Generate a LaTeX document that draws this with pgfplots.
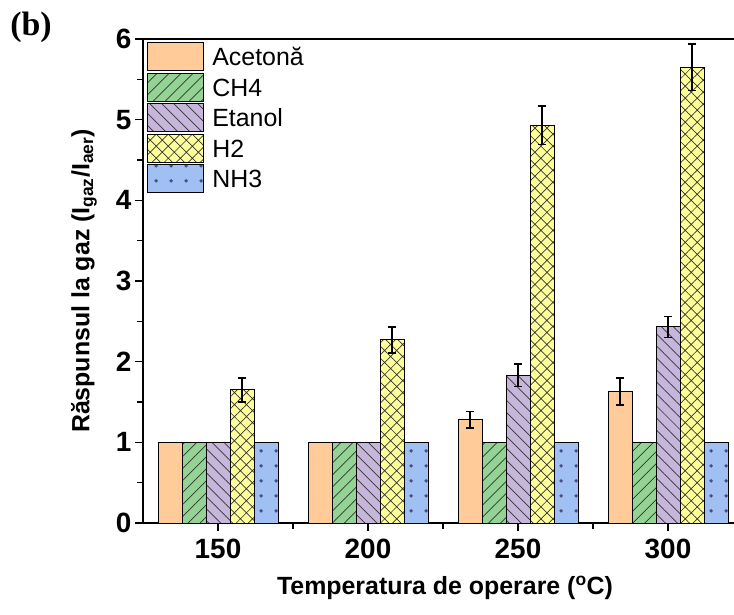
\documentclass[border=0pt]{standalone}
\usepackage{fontspec}
\setmainfont{Liberation Sans}
\newfontfamily\serifb{Liberation Serif}
\usepackage{pgfplots}
\pgfplotsset{compat=1.18}
\usetikzlibrary{patterns.meta}
\definecolor{cAce}{RGB}{255,204,153}
\definecolor{cCH}{RGB}{147,211,147}
\definecolor{cEt}{RGB}{199,182,220}
\definecolor{cH}{RGB}{255,255,153}
\definecolor{cNH}{RGB}{160,191,242}
\definecolor{cDot}{RGB}{70,80,120}
\pgfplotsset{
  mylegend/.style={legend image code/.code={\draw[##1] (0bp,-14bp) rectangle (56bp,14bp);}},
  errplot/.style={draw=none, mark=none, forget plot,
    /pgfplots/error bars/y dir=both, /pgfplots/error bars/y explicit,
    /pgfplots/error bars/error bar style={draw=black, line width=2bp},
    /pgfplots/error bars/error mark options={draw=black, rotate=90, mark size=4bp, line width=1.5bp}},
}
\begin{document}
\begin{tikzpicture}
\begin{axis}[
  at={(143bp,92bp)}, anchor=south west,
  scale only axis, width=591bp, height=484bp,
  xmin=0.5, xmax=4.44, ymin=0, ymax=6,
  clip=false,
  axis x line*=bottom, axis y line*=left,
  axis line style={line width=1.5bp, black},
  xtick={1,2,3,4}, xticklabels={150,200,250,300},
  minor xtick={1.5,2.5,3.5},
  ytick={0,1,2,3,4,5,6}, minor ytick={0.5,1.5,2.5,3.5,4.5,5.5},
  tick align=outside,
  major tick length=8bp, minor tick length=6bp,
  every tick/.style={line width=1.5bp, black},
  ticklabel style={font=\bfseries\fontsize{28}{30}\selectfont},
  xticklabel style={yshift=-5bp},
  /pgf/number format/assume math mode=true,
  xlabel={Temperatura de operare (\textsuperscript{o}C)},
  ylabel={Răspunsul la gaz (I\textsubscript{gaz}/I\textsubscript{aer})},
  label style={font=\bfseries\fontsize{25}{27}\selectfont},
  xlabel style={at={(axis description cs:0.511,0)}, yshift=-65bp, anchor=center},
  ylabel style={at={(axis description cs:-0.1,0.5)}, anchor=center},
  legend style={at={(rel axis cs:0.007,0.994)}, anchor=north west, draw=none, fill=none,
    font=\fontsize{25}{27}\selectfont, row sep=1.5bp, inner sep=0pt,
    nodes={inner sep=0pt, text height=18bp, text depth=0bp},
    /tikz/every odd column/.append style={column sep=8bp}},
  legend cell align=left,
]
\addplot[ybar, bar width=0.16, bar shift=-0.32, fill=cAce, draw=black, line width=1bp, mylegend]
  coordinates {(1,1) (2,1) (3,1.28) (4,1.63)};
\addlegendentry{Acetonă}
\addplot[ybar, bar width=0.16, bar shift=-0.16, fill=cCH, draw=black, line width=1bp, mylegend,
  postaction={pattern={Lines[angle=45,distance=8.5bp,line width=0.7bp]}, pattern color=black!80}]
  coordinates {(1,1) (2,1) (3,1) (4,1)};
\addlegendentry{CH4}
\addplot[ybar, bar width=0.16, bar shift=0, fill=cEt, draw=black, line width=1bp, mylegend,
  postaction={pattern={Lines[angle=-45,distance=8.5bp,line width=0.7bp]}, pattern color=black!80}]
  coordinates {(1,1) (2,1) (3,1.83) (4,2.43)};
\addlegendentry{Etanol}
\addplot[ybar, bar width=0.16, bar shift=0.16, fill=cH, draw=black, line width=1bp, mylegend,
  postaction={pattern={Hatch[angle=45,distance=8.5bp,line width=0.7bp]}, pattern color=black!80}]
  coordinates {(1,1.65) (2,2.27) (3,4.93) (4,5.65)};
\addlegendentry{H2}
\addplot[ybar, bar width=0.16, bar shift=0.32, fill=cNH, draw=black, line width=1bp, mylegend,
  postaction={pattern={Dots[distance=15bp,radius=2bp,xshift=-8bp]}, pattern color=cDot}]
  coordinates {(1,1) (2,1) (3,1) (4,1)};
\addlegendentry{NH3}
% error bars (x positions are the shifted bar centres)
\addplot[errplot] coordinates {(2.68,1.28) +- (0,0.10) (3.68,1.63) +- (0,0.17)};
\addplot[errplot] coordinates {(3,1.83) +- (0,0.14) (4,2.43) +- (0,0.13)};
\addplot[errplot] coordinates {(1.16,1.65) +- (0,0.15) (2.16,2.27) +- (0,0.16) (3.16,4.93) +- (0,0.24) (4.16,5.65) +- (0,0.29)};
\draw[line width=1.5bp, black] (rel axis cs:0,1) -- (rel axis cs:1,1);
\end{axis}
\node[font=\serifb\bfseries\fontsize{34}{36}\selectfont] at (31bp,588bp) {(b)};
\pgfresetboundingbox
\useasboundingbox (0,0) rectangle (734bp,615bp);
\end{tikzpicture}
\end{document}
